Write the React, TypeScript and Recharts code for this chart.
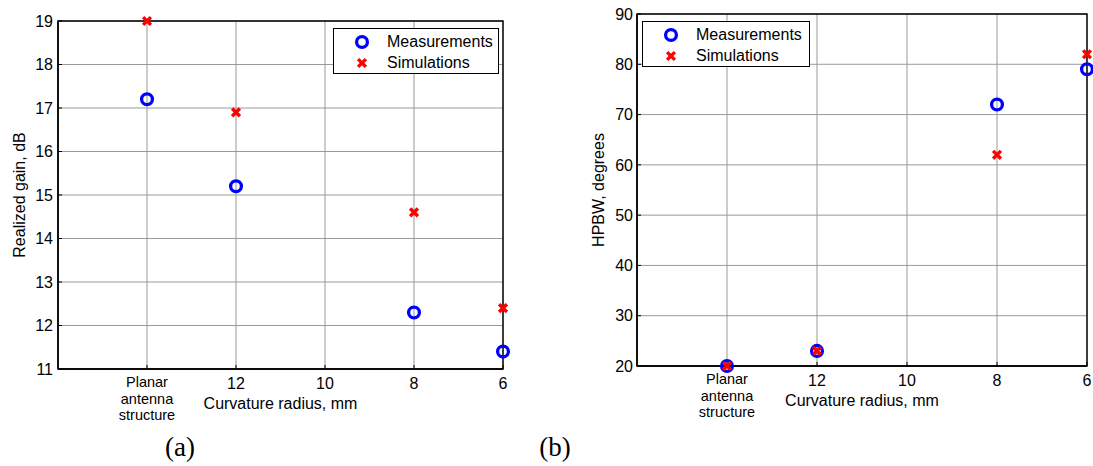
import React from 'react';
import {
  ScatterChart,
  Scatter,
  XAxis,
  YAxis,
  CartesianGrid,
  ReferenceArea,
  Legend,
} from 'recharts';

// x positions on the reversed radius axis; 14 is the slot used for the planar antenna
const radiusTicks = [14, 12, 10, 8, 6];
const planarLabel = ['Planar', 'antenna', 'structure'];
const pointRadius = [14, 12, 8, 6];

const gainMeasured = [17.2, 15.2, 12.3, 11.4];
const gainSimulated = [19, 16.9, 14.6, 12.4];
const gainTicks = [11, 12, 13, 14, 15, 16, 17, 18, 19];

const hpbwMeasured = [20, 23, 72, 79];
const hpbwSimulated = [20, 23, 62, 82];
const hpbwTicks = [20, 30, 40, 50, 60, 70, 80, 90];

const seriesNames = ['Measurements', 'Simulations'];

const FONT = '"Liberation Sans", Arial, sans-serif';

const toPoints = (ys: number[]) => pointRadius.map((x, i) => ({ x, y: ys[i] }));

const CircleMark = (p: any) => (
  <circle cx={p.cx} cy={p.cy} r={5.4} fill="none" stroke="#0000ff" strokeWidth={3.3} />
);

const CrossMark = (p: any) => {
  const s = 3.9;
  return (
    <path
      d={`M${p.cx - s},${p.cy - s}L${p.cx + s},${p.cy + s}M${p.cx + s},${p.cy - s}L${p.cx - s},${p.cy + s}`}
      stroke="#ff0000"
      strokeWidth={3.4}
      fill="none"
    />
  );
};

const XTick = (props: any) => {
  const { x, y, payload } = props;
  if (payload.value === 14) {
    return (
      <g>
        {planarLabel.map((t, i) => (
          <text key={t} x={x} y={y + 18 + i * 16.5} textAnchor="middle" fontSize={14.5} fontFamily={FONT} fill="#000">
            {t}
          </text>
        ))}
      </g>
    );
  }
  return (
    <text x={x} y={y + 19.5} textAnchor="middle" fontSize={16} fontFamily={FONT} fill="#000">
      {payload.value}
    </text>
  );
};

const LegendBox = ({ left, top, width }: { left: number; top: number; width: number }) => (
  <div
    style={{
      position: 'absolute',
      left,
      top,
      width,
      height: 46,
      border: '1.4px solid #000',
      background: '#fff',
      boxSizing: 'border-box',
      fontFamily: FONT,
      fontSize: 16,
      color: '#000',
    }}
  >
    {seriesNames.map((name, i) => (
      <div key={name} style={{ position: 'absolute', left: 0, top: 3 + i * 21, height: 20, width: '100%' }}>
        <svg width={40} height={20} style={{ position: 'absolute', left: 8, top: 0 }}>
          {i === 0 ? <CircleMark cx={20} cy={10} /> : <CrossMark cx={20} cy={10} />}
        </svg>
        <span style={{ position: 'absolute', left: 53, top: 0, lineHeight: '20px', whiteSpace: 'nowrap' }}>{name}</span>
      </div>
    ))}
  </div>
);

type PanelProps = {
  left: number;
  width: number;
  top: number;
  axisWidth: number;
  rightPad: number;
  xAxisHeight: number;
  yTicks: number[];
  yMargin: number;
  measured: number[];
  simulated: number[];
  yLabel: string;
  yLabelX: number;
  legendLeft: number;
  legendTop: number;
  legendWidth: number;
  tag: string;
  tagX: number;
};

const Panel = (p: PanelProps) => {
  const height = 430;
  const yMin = p.yTicks[0];
  const yMax = p.yTicks[p.yTicks.length - 1];
  return (
    <div style={{ position: 'absolute', left: p.left, top: 0, width: p.width, height: 466 }}>
      <ScatterChart width={p.width} height={height} margin={{ top: p.top, right: p.rightPad, bottom: 0, left: 0 }}>
        <CartesianGrid stroke="#999" strokeWidth={1} />
        <XAxis
          type="number"
          dataKey="x"
          domain={[6, 16]}
          reversed
          ticks={radiusTicks}
          interval={0}
          height={p.xAxisHeight}
          axisLine={{ stroke: '#000', strokeWidth: 1.4 }}
          tickLine={{ stroke: '#000' }}
          tickSize={-4}
          tickMargin={4}
          tick={<XTick />}
          label={{
            content: (lp: any) => {
              const vb = lp.viewBox;
              return (
                <text
                  x={vb.x + vb.width / 2}
                  y={vb.y + 39.5}
                  textAnchor="middle"
                  fontSize={16}
                  fontFamily={FONT}
                  fill="#000"
                >
                  Curvature radius, mm
                </text>
              );
            },
          }}
        />
        <YAxis
          type="number"
          dataKey="y"
          domain={[yMin, yMax]}
          ticks={p.yTicks}
          interval={0}
          width={p.axisWidth}
          axisLine={{ stroke: '#000', strokeWidth: 1.4 }}
          tickLine={{ stroke: '#000' }}
          tickSize={-4}
          tickMargin={p.yMargin}
          tick={{ fontSize: 16, fontFamily: FONT, fill: '#000' }}
          label={{
            content: (lp: any) => {
              const vb = lp.viewBox;
              const cy = vb.y + vb.height / 2;
              return (
                <text
                  x={p.yLabelX}
                  y={cy}
                  transform={`rotate(-90 ${p.yLabelX} ${cy})`}
                  textAnchor="middle"
                  dominantBaseline="central"
                  fontSize={16}
                  fontFamily={FONT}
                  fill="#000"
                >
                  {p.yLabel}
                </text>
              );
            },
          }}
        />
        <ReferenceArea x1={16} x2={6} y1={yMin} y2={yMax} fill="none" stroke="#000" strokeWidth={1.4} ifOverflow="visible" />
        <Scatter name={seriesNames[0]} data={toPoints(p.measured)} shape={CircleMark} isAnimationActive={false} />
        <Scatter name={seriesNames[1]} data={toPoints(p.simulated)} shape={CrossMark} isAnimationActive={false} />
        <Legend
          layout="horizontal"
          verticalAlign="middle"
          align="center"
          wrapperStyle={{ left: 0, top: 0, width: 0, height: 0 }}
          content={() => <LegendBox left={p.legendLeft} top={p.legendTop} width={p.legendWidth} />}
        />
      </ScatterChart>
      <div
        style={{
          position: 'absolute',
          left: p.tagX - 40,
          width: 80,
          top: 430,
          textAlign: 'center',
          fontFamily: '"Liberation Serif", "Times New Roman", serif',
          fontSize: 27,
          lineHeight: '34px',
          color: '#000',
        }}
      >
        {p.tag}
      </div>
    </div>
  );
};

export default function App() {
  return (
    <div style={{ position: 'absolute', left: 0, top: 0, width: 1093, height: 466, background: '#fff', overflow: 'hidden' }}>
      <Panel
        left={0}
        width={520}
        top={21}
        axisWidth={58}
        rightPad={17}
        xAxisHeight={61}
        yTicks={gainTicks}
        yMargin={9}
        measured={gainMeasured}
        simulated={gainSimulated}
        yLabel="Realized gain, dB"
        yLabelX={19.5}
        legendLeft={333}
        legendTop={28}
        legendWidth={166}
        tag="(a)"
        tagX={180}
      />
      <Panel
        left={560}
        width={533}
        top={14}
        axisWidth={77}
        rightPad={6}
        xAxisHeight={64}
        yTicks={hpbwTicks}
        yMargin={8}
        measured={hpbwMeasured}
        simulated={hpbwSimulated}
        yLabel="HPBW, degrees"
        yLabelX={38.5}
        legendLeft={82}
        legendTop={21}
        legendWidth={168}
        tag="(b)"
        tagX={-5}
      />
    </div>
  );
}
